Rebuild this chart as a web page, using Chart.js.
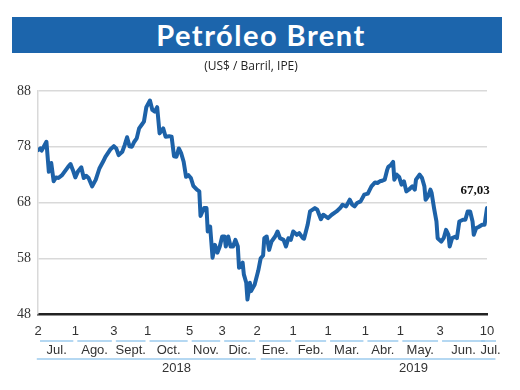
<!DOCTYPE html>
<html>
<head>
<meta charset="utf-8">
<script src="https://cdn.jsdelivr.net/npm/chart.js@4"></script>
<style>
  html, body { margin: 0; padding: 0; background: #fff; }
  #wrap { position: relative; width: 520px; height: 390px; }
  #banner {
    position: absolute; left: 12px; top: 17px; width: 490px; height: 36px;
    background: #1c65ac; color: #fff; text-align: center;
    font: bold 29px Lato, "Open Sans", sans-serif; line-height: 36px;
    letter-spacing: 1.5px; padding-left: 8px; box-sizing: border-box;
  }
  #sub {
    position: absolute; left: 0; top: 57px; width: 502px; text-align: center;
    font: 12px "Open Sans", sans-serif; color: #222;
  }
  canvas { position: absolute; left: 0; top: 0; }
</style>
</head>
<body>
<div id="wrap">
  <canvas id="brent" width="520" height="390"></canvas>
  <div id="banner">Petróleo Brent</div>
  <div id="sub">(US$ / Barril, IPE)</div>
</div>
<script>
// days since 2 Jul 2018
const days = [0, 2, 3, 5, 7, 9, 11, 13, 15, 17, 20, 25, 27, 29, 31, 33, 36, 38, 40, 42, 45, 48, 51, 54, 56, 60,
  63, 65, 67, 70, 72, 74, 76, 78, 80, 82, 84, 86, 88, 90, 93, 95, 97, 99, 101, 104, 106, 109, 111, 113, 115,
  117, 119, 121, 123, 125, 127, 129, 132, 134, 135, 136, 138, 140, 141, 143, 145, 147, 149, 151, 153, 155,
  156, 158, 160, 162, 164, 166, 167, 170, 171, 173, 174, 176, 177, 180, 183, 185, 187, 188, 190, 192, 194,
  197, 199, 201, 204, 206, 208, 210, 212, 215, 217, 220, 221, 224, 226, 230, 232, 235, 237, 239, 241, 244,
  248, 251, 253, 256, 259, 261, 263, 265, 268, 271, 274, 277, 280, 282, 284, 286, 288, 290, 291, 293, 295,
  296, 298, 300, 302, 304, 306, 308, 311, 313, 314, 317, 319, 321, 322, 324, 326, 327, 329, 331, 332, 335,
  337, 339, 341, 342, 344, 347, 348, 350, 353, 355, 357, 359, 361, 362, 364, 366, 369, 371, 373];
const prices = [77.4, 77.7, 77.3, 78.1, 78.9, 73.5, 75.1, 71.8, 72.5, 72.4, 72.9, 74.4, 74.9, 73.8, 72.5, 73.5,
  74.3, 72.4, 72.8, 72.4, 70.9, 72.1, 74.1, 75.3, 76.2, 77.5, 78.1, 77.7, 76.5, 77.1, 78.3, 79.7, 78.1, 78.0,
  78.9, 79.5, 81.3, 81.9, 82.5, 85.1, 86.3, 84.6, 84.3, 85.1, 80.4, 81.3, 79.8, 79.9, 79.8, 76.3, 76.2, 77.7,
  76.8, 75.3, 72.6, 72.9, 72.4, 71.0, 70.3, 70.0, 65.6, 66.1, 67.0, 67.0, 62.8, 63.7, 58.1, 60.4, 59.0, 60.1,
  61.9, 61.9, 60.1, 61.9, 60.1, 60.1, 61.3, 60.1, 56.3, 57.2, 55.1, 53.6, 50.6, 53.6, 52.1, 53.3, 55.8, 58.0,
  58.5, 61.6, 61.9, 59.5, 61.0, 61.9, 62.8, 61.6, 61.3, 60.1, 61.6, 61.3, 62.8, 62.2, 62.5, 61.6, 61.5, 64.0,
  66.4, 67.0, 66.7, 65.0, 65.8, 65.5, 65.2, 65.8, 66.4, 67.0, 67.6, 67.3, 68.5, 67.6, 67.3, 67.9, 68.2, 69.4,
  69.6, 70.9, 71.6, 71.5, 71.8, 71.9, 72.1, 73.8, 74.4, 74.7, 75.3, 72.1, 73.0, 72.6, 71.2, 71.8, 70.0, 70.3,
  70.9, 70.3, 72.1, 73.0, 72.4, 70.9, 68.5, 69.1, 70.3, 69.7, 67.0, 64.6, 61.6, 61.0, 61.6, 63.1, 62.2, 60.1,
  61.6, 61.9, 61.6, 64.6, 64.9, 64.9, 66.4, 66.4, 64.6, 62.2, 63.4, 63.6, 64.0, 64.0, 67.03];

// x axis: day-of-month ticks, month names, years
const tickDays = [0, 31, 63, 91, 126, 153, 182, 212, 241, 272, 301, 334, 373];
const tickLabels = ['2', '1', '3', '1', '5', '3', '2', '1', '1', '1', '1', '3', '10'];
const monthLabels = ['Jul.', 'Ago.', 'Sept.', 'Oct.', 'Nov.', 'Dic.', 'Ene.', 'Feb.', 'Mar.', 'Abr.', 'May.', 'Jun.', 'Jul.'];
const yearLabels = ['2018', '2019'];
const yearLabelDays = [115, 312];
const yearSpans = [[-1, 181], [185, 380]];
const yTicks = [48, 58, 68, 78, 88];
const lastLabel = '67,03';

const lineBlue = '#1d62a8';
const lightBlue = '#9ccbee';
const axisFont = { family: '"Liberation Sans", Arial, sans-serif', size: 13 };

// month label positions: middle of each span between day ticks
const monthDays = monthLabels.map((m, i) => i < tickDays.length - 1 ? (tickDays[i] + tickDays[i + 1]) / 2 : 376);

function fixedTicks(values) {
  return scale => { scale.ticks = values.map(v => ({ value: v })); };
}

const underlines = {
  id: 'underlines',
  afterDraw(chart) {
    const ctx = chart.ctx;
    const x = chart.scales.x;
    const rowA = chart.scales.x2.top;
    const rowB = chart.scales.x3.top;
    ctx.save();
    ctx.strokeStyle = lightBlue;
    ctx.lineWidth = 1.5;
    // month segments
    for (let i = 0; i < tickDays.length; i++) {
      let a, b;
      if (i < tickDays.length - 1) {
        a = x.getPixelForValue(tickDays[i]) + 2;
        b = x.getPixelForValue(tickDays[i + 1]) - 2;
      } else {
        a = x.getPixelForValue(tickDays[i]) - 6;
        b = x.getPixelForValue(tickDays[i]) + 9;
      }
      ctx.beginPath();
      ctx.moveTo(a, rowA);
      ctx.lineTo(b, rowA);
      ctx.stroke();
    }
    // year segments
    yearSpans.forEach(s => {
      ctx.beginPath();
      ctx.moveTo(x.getPixelForValue(s[0]), rowB);
      ctx.lineTo(x.getPixelForValue(s[1]), rowB);
      ctx.stroke();
    });
    // last value label
    const y = chart.scales.y;
    const px = x.getPixelForValue(days[days.length - 1]);
    const py = y.getPixelForValue(prices[prices.length - 1]);
    ctx.fillStyle = '#111';
    ctx.font = 'bold 13px "Liberation Serif", "DejaVu Serif", serif';
    ctx.textAlign = 'center';
    ctx.textBaseline = 'middle';
    ctx.fillText(lastLabel, px - 12, py - 17);
    ctx.restore();
  }
};

new Chart(document.getElementById('brent'), {
  type: 'line',
  data: {
    datasets: [{
      data: days.map((d, i) => ({ x: d, y: prices[i] })),
      borderColor: lineBlue,
      borderWidth: 4,
      borderJoinStyle: 'round',
      borderCapStyle: 'round',
      pointRadius: 0,
      tension: 0
    }]
  },
  options: {
    responsive: false,
    animation: false,
    events: [],
    layout: { padding: { top: 91, right: 33, bottom: 14, left: 0 } },
    plugins: { legend: { display: false }, tooltip: { enabled: false } },
    scales: {
      x: {
        type: 'linear', position: 'bottom', weight: 0,
        min: 0, max: 373,
        afterBuildTicks: fixedTicks(tickDays),
        afterFit: s => { s.height = 27; },
        grid: { display: false, drawTicks: false },
        border: { display: true, color: '#222', width: 2.5 },
        ticks: {
          padding: 10, maxRotation: 0, autoSkip: false, color: '#333',
          font: axisFont,
          callback: (v, i) => tickLabels[i]
        }
      },
      x2: {
        type: 'linear', position: 'bottom', weight: 1,
        min: 0, max: 373,
        afterBuildTicks: fixedTicks(monthDays),
        afterFit: s => { s.height = 18; },
        grid: { display: false, drawTicks: false },
        border: { display: false },
        ticks: {
          padding: 2, maxRotation: 0, autoSkip: false, color: '#333',
          font: axisFont,
          callback: (v, i) => monthLabels[i]
        }
      },
      x3: {
        type: 'linear', position: 'bottom', weight: 2,
        min: 0, max: 373,
        afterBuildTicks: fixedTicks(yearLabelDays),
        afterFit: s => { s.height = 17; },
        grid: { display: false, drawTicks: false },
        border: { display: false },
        ticks: {
          padding: 2, maxRotation: 0, autoSkip: false, color: '#333',
          font: axisFont,
          callback: (v, i) => yearLabels[i]
        }
      },
      y: {
        min: 48, max: 88,
        afterBuildTicks: fixedTicks(yTicks),
        afterFit: s => { s.width = 38; },
        grid: {
          drawTicks: false, lineWidth: 1.5,
          color: c => c.tick && c.tick.value === 48 ? 'rgba(0,0,0,0)' : '#d9d9d9'
        },
        border: { display: true, color: '#d9d9d9', width: 1.5 },
        ticks: {
          padding: 7, color: '#333',
          font: { family: '"Liberation Serif", "DejaVu Serif", serif', size: 14 }
        }
      }
    }
  },
  plugins: [underlines]
});
</script>
</body>
</html>
